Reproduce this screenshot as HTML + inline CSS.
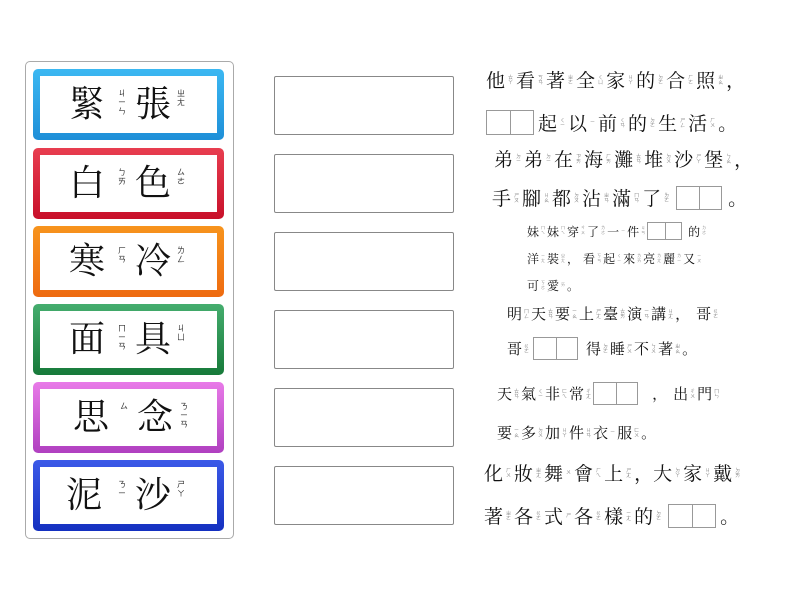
<!DOCTYPE html>
<html><head><meta charset="utf-8"><style>
body{margin:0;width:800px;height:600px;background:#fff;position:relative;overflow:hidden;font-family:"Liberation Serif","Noto Serif CJK SC",serif;}
.panel{position:absolute;left:25px;top:61px;width:207px;height:476px;border:1px solid #aaa;border-radius:5px;}
.card{position:absolute;left:33px;width:191px;height:71px;border-radius:5px;}
.card .in{position:absolute;left:7px;top:7px;right:7px;bottom:7px;background:#fff;}
.card .c{position:absolute;top:15px;font-size:36px;line-height:40px;color:#111;}
.card .b{position:absolute;top:20px;font-size:8px;line-height:9px;color:#333;width:10px;text-align:center;font-family:"Noto Sans CJK TC",sans-serif;}
.box{position:absolute;left:274px;width:178px;height:57px;border:1px solid #888;border-radius:2px;}
.ln{position:absolute;white-space:nowrap;display:flex;align-items:center;color:#111;}
.ln b{font-weight:normal;}
.ln i{font-style:normal;display:inline-block;font-size:5px;line-height:5px;color:#888;width:11px;text-align:center;font-family:"Noto Sans CJK TC",sans-serif;}
.big{font-size:19px;}
.mid{font-size:15px;}
.mid i{width:9px}
.sm{font-size:12px;}
.sm i{width:8px;font-size:4px}
.bl{display:inline-block;border:1px solid #999;position:relative;box-sizing:border-box;}
.bl:after{content:"";position:absolute;left:50%;top:0;bottom:0;border-left:1px solid #999;}
</style></head><body>
<div class="panel"></div>

<div class="card" style="top:69px;background:linear-gradient(#3cb8f2,#1e8fd8)"><div class="in"></div>
<span class="c" style="left:36px">緊</span><span class="b" style="left:84px">ㄐ<br>ㄧ<br>ㄣ</span><span class="c" style="left:102px">張</span><span class="b" style="left:143px">ㄓ<br>ㄤ</span></div>
<div class="card" style="top:148px;background:linear-gradient(#e83e50,#c8102a)"><div class="in"></div>
<span class="c" style="left:36px">白</span><span class="b" style="left:84px">ㄅ<br>ㄞ</span><span class="c" style="left:102px">色</span><span class="b" style="left:143px">ㄙ<br>ㄜ</span></div>
<div class="card" style="top:226px;background:linear-gradient(#f7941d,#ee6a10)"><div class="in"></div>
<span class="c" style="left:36px">寒</span><span class="b" style="left:84px">ㄏ<br>ㄢ</span><span class="c" style="left:102px">冷</span><span class="b" style="left:143px">ㄌ<br>ㄥ</span></div>
<div class="card" style="top:304px;background:linear-gradient(#45ad6e,#177a3a)"><div class="in"></div>
<span class="c" style="left:36px">面</span><span class="b" style="left:84px">ㄇ<br>ㄧ<br>ㄢ</span><span class="c" style="left:102px">具</span><span class="b" style="left:143px">ㄐ<br>ㄩ</span></div>
<div class="card" style="top:382px;background:linear-gradient(#e87ae8,#b040c0)"><div class="in"></div>
<span class="c" style="left:40px">思</span><span class="b" style="left:86px">ㄙ</span><span class="c" style="left:104px">念</span><span class="b" style="left:146px">ㄋ<br>ㄧ<br>ㄢ</span></div>
<div class="card" style="top:460px;background:linear-gradient(#3c5ae8,#1430c0)"><div class="in"></div>
<span class="c" style="left:33px">泥</span><span class="b" style="left:84px">ㄋ<br>ㄧ</span><span class="c" style="left:102px">沙</span><span class="b" style="left:143px">ㄕ<br>ㄚ</span></div>

<div class="box" style="top:76px"></div>
<div class="box" style="top:154px"></div>
<div class="box" style="top:232px"></div>
<div class="box" style="top:310px"></div>
<div class="box" style="top:388px"></div>
<div class="box" style="top:466px"></div>

<div class="ln big" style="left:486px;top:66px"><b>他</b><i>ㄊ<br>ㄚ</i><b>看</b><i>ㄎ<br>ㄢ</i><b>著</b><i>ㄓ<br>ㄜ</i><b>全</b><i>ㄑ<br>ㄩ</i><b>家</b><i>ㄐ<br>ㄚ</i><b>的</b><i>ㄉ<br>ㄜ</i><b>合</b><i>ㄏ<br>ㄜ</i><b>照</b><i>ㄓ<br>ㄠ</i><b>，</b></div>
<div class="ln big" style="left:486px;top:109px"><span class="bl" style="width:48px;height:25px;margin-right:4px"></span><b>起</b><i>ㄑ<br>ㄧ</i><b>以</b><i>ㄧ</i><b>前</b><i>ㄑ<br>ㄢ</i><b>的</b><i>ㄉ<br>ㄜ</i><b>生</b><i>ㄕ<br>ㄥ</i><b>活</b><i>ㄏ<br>ㄨ</i><b>。</b></div>
<div class="ln big" style="left:494px;top:145px"><b>弟</b><i>ㄉ<br>ㄧ</i><b>弟</b><i>ㄉ<br>ㄧ</i><b>在</b><i>ㄗ<br>ㄞ</i><b>海</b><i>ㄏ<br>ㄞ</i><b>灘</b><i>ㄊ<br>ㄢ</i><b>堆</b><i>ㄉ<br>ㄨ</i><b>沙</b><i>ㄕ<br>ㄚ</i><b>堡</b><i>ㄅ<br>ㄠ</i><b>，</b></div>
<div class="ln big" style="left:492px;top:184px"><b>手</b><i>ㄕ<br>ㄡ</i><b>腳</b><i>ㄐ<br>ㄠ</i><b>都</b><i>ㄉ<br>ㄡ</i><b>沾</b><i>ㄓ<br>ㄢ</i><b>滿</b><i>ㄇ<br>ㄢ</i><b>了</b><i>ㄌ<br>ㄜ</i><span class="bl" style="width:46px;height:24px;margin-left:4px;margin-right:6px"></span><b>。</b></div>

<div class="ln sm" style="left:527px;top:222px"><b>妹</b><i>ㄇ<br>ㄟ</i><b>妹</b><i>ㄇ<br>ㄟ</i><b>穿</b><i>ㄔ<br>ㄨ</i><b>了</b><i>ㄌ<br>ㄜ</i><b>一</b><i>ㄧ</i><b>件</b><i>ㄐ<br>ㄢ</i><span class="bl" style="width:35px;height:18px;margin-right:6px"></span><b>的</b><i>ㄉ<br>ㄜ</i></div>
<div class="ln sm" style="left:527px;top:250px"><b>洋</b><i>ㄧ<br>ㄤ</i><b>裝</b><i>ㄓ<br>ㄤ</i><b>，</b><b style="margin-left:4px">看</b><i>ㄎ<br>ㄢ</i><b>起</b><i>ㄑ<br>ㄧ</i><b>來</b><i>ㄌ<br>ㄞ</i><b>亮</b><i>ㄌ<br>ㄤ</i><b>麗</b><i>ㄌ<br>ㄧ</i><b>又</b><i>ㄧ<br>ㄡ</i></div>
<div class="ln sm" style="left:527px;top:277px"><b>可</b><i>ㄎ<br>ㄜ</i><b>愛</b><i>ㄞ</i><b>。</b></div>

<div class="ln mid" style="left:507px;top:303px"><b>明</b><i>ㄇ<br>ㄥ</i><b>天</b><i>ㄊ<br>ㄢ</i><b>要</b><i>ㄧ<br>ㄠ</i><b>上</b><i>ㄕ<br>ㄤ</i><b>臺</b><i>ㄊ<br>ㄞ</i><b>演</b><i>ㄧ<br>ㄢ</i><b>講</b><i>ㄐ<br>ㄤ</i><b>，</b><b style="margin-left:6px">哥</b><i>ㄍ<br>ㄜ</i></div>
<div class="ln mid" style="left:507px;top:337px"><b>哥</b><i>ㄍ<br>ㄜ</i><span class="bl" style="width:45px;height:23px;margin:0 8px 0 2px"></span><b>得</b><i>ㄉ<br>ㄜ</i><b>睡</b><i>ㄕ<br>ㄨ</i><b>不</b><i>ㄅ<br>ㄨ</i><b>著</b><i>ㄓ<br>ㄠ</i><b>。</b></div>

<div class="ln mid" style="left:497px;top:382px"><b>天</b><i>ㄊ<br>ㄢ</i><b>氣</b><i>ㄑ<br>ㄧ</i><b>非</b><i>ㄈ<br>ㄟ</i><b>常</b><i>ㄔ<br>ㄤ</i><span class="bl" style="width:45px;height:23px;margin-right:14px"></span><b>，</b><b style="margin-left:6px">出</b><i>ㄔ<br>ㄨ</i><b>門</b><i>ㄇ<br>ㄣ</i></div>
<div class="ln mid" style="left:497px;top:422px"><b>要</b><i>ㄧ<br>ㄠ</i><b>多</b><i>ㄉ<br>ㄨ</i><b>加</b><i>ㄐ<br>ㄚ</i><b>件</b><i>ㄐ<br>ㄢ</i><b>衣</b><i>ㄧ</i><b>服</b><i>ㄈ<br>ㄨ</i><b>。</b></div>

<div class="ln big" style="left:484px;top:459px"><b>化</b><i>ㄏ<br>ㄨ</i><b>妝</b><i>ㄓ<br>ㄤ</i><b>舞</b><i>ㄨ</i><b>會</b><i>ㄏ<br>ㄟ</i><b>上</b><i>ㄕ<br>ㄤ</i><b>，</b><b>大</b><i>ㄉ<br>ㄚ</i><b>家</b><i>ㄐ<br>ㄚ</i><b>戴</b><i>ㄉ<br>ㄞ</i></div>
<div class="ln big" style="left:484px;top:502px"><b>著</b><i>ㄓ<br>ㄜ</i><b>各</b><i>ㄍ<br>ㄜ</i><b>式</b><i>ㄕ</i><b>各</b><i>ㄍ<br>ㄜ</i><b>樣</b><i>ㄧ<br>ㄤ</i><b>的</b><i>ㄉ<br>ㄜ</i><span class="bl" style="width:48px;height:24px;margin-left:4px;margin-right:4px"></span><b>。</b></div>
</body></html>
